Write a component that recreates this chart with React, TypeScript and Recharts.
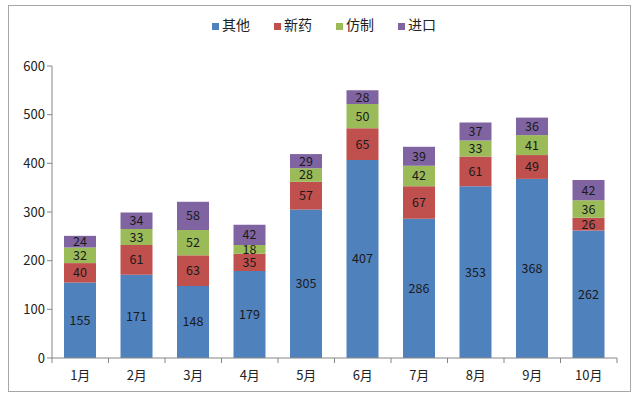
import { BarChart, Bar, XAxis, YAxis, LabelList } from 'recharts';

const months = ['1月', '2月', '3月', '4月', '5月', '6月', '7月', '8月', '9月', '10月'];
const other = [155, 171, 148, 179, 305, 407, 286, 353, 368, 262];
const newDrug = [40, 61, 63, 35, 57, 65, 67, 61, 49, 26];
const generic = [32, 33, 52, 18, 28, 50, 42, 33, 41, 36];
const imported = [24, 34, 58, 42, 29, 28, 39, 37, 36, 42];
const yTicks = [0, 100, 200, 300, 400, 500, 600];

const FONT = '"Noto Sans CJK SC", "Liberation Sans", sans-serif';
const AXIS = '#868686';

const data = months.map((m, i) => ({
  name: m,
  其他: other[i],
  新药: newDrug[i],
  仿制: generic[i],
  进口: imported[i],
}));

const series = [
  { key: '其他', color: '#4F81BD' },
  { key: '新药', color: '#C0504D' },
  { key: '仿制', color: '#9BBB59' },
  { key: '进口', color: '#8064A2' },
];

// category label plus Excel-style tick marks on the band edges
const MonthTick = (props: any) => {
  const { x, y, payload, index } = props;
  const half = payload.offset || 28.25;
  return (
    <g>
      <line x1={x - half} x2={x - half} y1={y - 8} y2={y - 3} stroke={AXIS} />
      {index === months.length - 1 && (
        <line x1={x + half} x2={x + half} y1={y - 8} y2={y - 3} stroke={AXIS} />
      )}
      <text x={x} y={y + 14} textAnchor="middle" fontSize={13} fill="#222" fontFamily={FONT}>
        {payload.value}
      </text>
    </g>
  );
};

const LegendBox = () => (
  <div style={{ position: 'absolute', top: 14, left: 4, width: 640, display: 'flex', justifyContent: 'center', gap: 24, fontFamily: FONT, fontSize: 14, color: '#222' }}>
    {series.map(s => (
      <span key={s.key} style={{ display: 'flex', alignItems: 'center' }}>
        <span style={{ width: 7, height: 7, background: s.color, display: 'inline-block', marginRight: 3, marginTop: 4 }} />
        {s.key}
      </span>
    ))}
  </div>
);

export default function App() {
  return (
    <div style={{ position: 'fixed', left: 0, top: 0, width: 640, height: 395, background: '#fff' }}>
      <div style={{ position: 'absolute', left: 8, top: 5, width: 621, height: 385, border: '1px solid #a6a6a6' }} />
      <LegendBox />
      <BarChart
        width={640}
        height={395}
        data={data}
        margin={{ top: 66, right: 23, left: 0, bottom: 7 }}
        barSize={32}
        style={{ fontFamily: FONT }}
      >
        <XAxis
          dataKey="name"
          height={30}
          axisLine={{ stroke: AXIS }}
          tickLine={false}
          tick={<MonthTick />}
          interval={0}
        />
        <YAxis
          width={52}
          domain={[0, 600]}
          ticks={yTicks}
          axisLine={{ stroke: AXIS }}
          tickLine={{ stroke: AXIS }}
          tickSize={5}
          tick={{ fill: '#222', fontSize: 13, fontFamily: FONT }}
        />
        {series.map(s => (
          <Bar key={s.key} dataKey={s.key} stackId="a" fill={s.color} isAnimationActive={false}>
            <LabelList dataKey={s.key} position="center" fill="#1a1a1a" fontSize={12.5} fontFamily={FONT} />
          </Bar>
        ))}
      </BarChart>
    </div>
  );
}
